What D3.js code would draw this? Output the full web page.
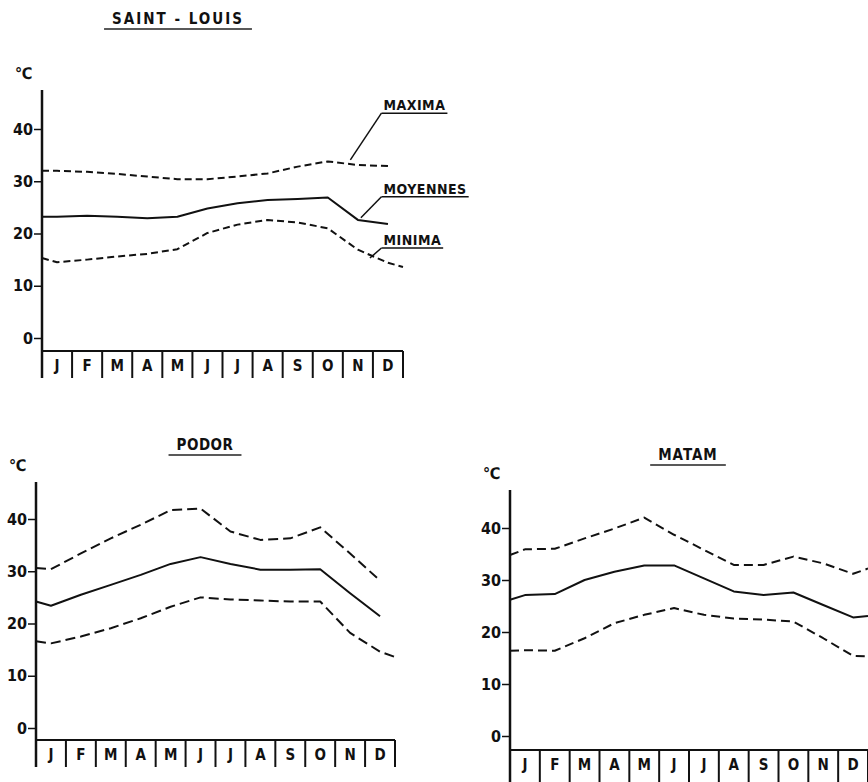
<!DOCTYPE html>
<html>
<head>
<meta charset="utf-8">
<script src="https://cdn.jsdelivr.net/npm/d3@7"></script>
<style>
  body { margin: 0; background: #fff; }
  svg { display: block; }
  text { font-family: "DejaVu Sans Condensed", "DejaVu Sans", sans-serif; font-stretch: condensed; font-weight: bold; fill: #111; }
</style>
</head>
<body>
<svg id="chart"></svg>
<script>
// Month initials shown in the boxes under each plot
const months = ['J', 'F', 'M', 'A', 'M', 'J', 'J', 'A', 'S', 'O', 'N', 'D'];
const yTicks = [0, 10, 20, 30, 40];
const seriesLabels = ['MAXIMA', 'MOYENNES', 'MINIMA'];

// first value sits on the axis, then one value per month centre, optional last at end of December
const stLouisMax  = [32.0, 32.0, 31.8, 31.4, 30.9, 30.4, 30.4, 30.9, 31.5, 32.8, 33.8, 33.1, 32.9];
const stLouisMean = [23.2, 23.2, 23.4, 23.2, 22.9, 23.2, 24.8, 25.8, 26.4, 26.6, 26.9, 22.6, 21.8];
const stLouisMin  = [15.3, 14.5, 15.0, 15.6, 16.1, 17.0, 20.1, 21.7, 22.6, 22.1, 21.0, 16.9, 14.4, 13.6];

const podorMax  = [30.6, 30.4, 33.4, 36.3, 38.9, 41.7, 42.0, 37.6, 36.0, 36.3, 38.4, 33.4, 28.2];
const podorMean = [24.2, 23.4, 25.5, 27.4, 29.3, 31.4, 32.7, 31.4, 30.3, 30.3, 30.4, 25.8, 21.4];
const podorMin  = [16.6, 16.2, 17.5, 19.1, 21.0, 23.2, 25.0, 24.6, 24.4, 24.2, 24.2, 18.2, 14.6, 13.6];

const matamMax  = [34.8, 35.9, 36.0, 38.0, 39.9, 42.0, 38.7, 35.8, 32.9, 32.9, 34.5, 33.2, 31.2, 32.2];
const matamMean = [26.2, 27.1, 27.3, 30.0, 31.6, 32.8, 32.8, 30.3, 27.8, 27.1, 27.6, 25.2, 22.8, 23.1];
const matamMin  = [16.4, 16.5, 16.4, 18.8, 21.7, 23.3, 24.6, 23.3, 22.6, 22.4, 22.0, 18.8, 15.4, 15.3];

// positions in month units: axis, month centres, end of December
function monthPos(n) {
  return d3.range(n).map(i => i === 0 ? 0 : (i <= 12 ? i - 0.5 : 12));
}

const svg = d3.select('#chart')
  .attr('width', 868)
  .attr('height', 782);

function drawPanel(cfg) {
  const g = svg.append('g');

  const x = d3.scaleLinear().domain([0, 12]).range([cfg.left, cfg.right]);
  const y = d3.scaleLinear().domain([0, 40]).range([cfg.zeroY, cfg.fortyY]);

  // title with underline
  const title = g.append('text')
    .attr('x', cfg.titleX)
    .attr('y', cfg.titleY)
    .attr('text-anchor', 'middle')
    .style('font-size', '15px')
    .style('letter-spacing', cfg.titleSpacing)
    .text(cfg.title);
  const tw = title.node().getComputedTextLength();
  g.append('line')
    .attr('x1', cfg.titleX - tw / 2 - 8).attr('x2', cfg.titleX + tw / 2 + 8)
    .attr('y1', cfg.titleY + 5).attr('y2', cfg.titleY + 5)
    .attr('stroke', '#222').attr('stroke-width', 1.5);

  // unit
  g.append('text')
    .attr('x', cfg.left - 27)
    .attr('y', cfg.axisTop - 11)
    .style('font-size', '16px')
    .text('℃');

  // y axis
  const yAxis = d3.axisLeft(y).tickValues(yTicks).tickSize(8).tickPadding(1).tickFormat(d3.format('d'));
  const ya = g.append('g')
    .attr('transform', `translate(${cfg.left},0)`)
    .call(yAxis);
  ya.select('.domain').remove();
  ya.selectAll('.tick line').attr('stroke', '#111').attr('stroke-width', 1.5);
  ya.selectAll('.tick text')
    .style('font-size', '16px')
    .style('font-family', '"DejaVu Sans Condensed", "DejaVu Sans", sans-serif')
    .style('font-stretch', 'condensed')
    .style('font-weight', 'bold')
    .attr('fill', '#111');

  g.append('line')
    .attr('x1', cfg.left).attr('x2', cfg.left)
    .attr('y1', cfg.axisTop).attr('y2', cfg.boxBottom)
    .attr('stroke', '#111').attr('stroke-width', 2.5);

  // month boxes
  g.append('line')
    .attr('x1', cfg.left).attr('x2', cfg.right)
    .attr('y1', cfg.boxTop).attr('y2', cfg.boxTop)
    .attr('stroke', '#111').attr('stroke-width', 2);
  g.selectAll('.divider')
    .data(d3.range(1, 13))
    .enter().append('line')
    .attr('class', 'divider')
    .attr('x1', d => x(d)).attr('x2', d => x(d))
    .attr('y1', cfg.boxTop).attr('y2', cfg.boxBottom)
    .attr('stroke', '#111').attr('stroke-width', 2);
  g.selectAll('.month')
    .data(months)
    .enter().append('text')
    .attr('class', 'month')
    .attr('x', (d, i) => x(i + 0.5))
    .attr('y', cfg.boxTop + 20)
    .attr('text-anchor', 'middle')
    .style('font-size', '15px')
    .text(d => d);

  // temperature curves
  const line = d3.line()
    .x(d => x(d.m))
    .y(d => y(d.v));

  cfg.series.forEach((vals, k) => {
    const pos = monthPos(vals.length);
    const pts = vals.map((v, i) => ({ m: pos[i], v: v }));
    g.append('path')
      .datum(pts)
      .attr('fill', 'none')
      .attr('stroke', '#111')
      .attr('stroke-width', 2)
      .attr('stroke-linejoin', 'round')
      .attr('stroke-dasharray', k === 1 ? null : cfg.dash)
      .attr('d', line);
  });

  return { g, x, y };
}

const stl = drawPanel({
  title: 'SAINT - LOUIS', titleX: 178, titleY: 24, titleSpacing: '2px',
  left: 42, right: 403, zeroY: 338, fortyY: 129, axisTop: 90, boxTop: 351, boxBottom: 378,
  dash: '7,4', series: [stLouisMax, stLouisMean, stLouisMin]
});

drawPanel({
  title: 'PODOR', titleX: 205, titleY: 450, titleSpacing: '0.5px',
  left: 36, right: 395, zeroY: 728, fortyY: 519, axisTop: 482, boxTop: 740, boxBottom: 767,
  dash: '10,5', series: [podorMax, podorMean, podorMin]
});

drawPanel({
  title: 'MATAM', titleX: 688, titleY: 460, titleSpacing: '1px',
  left: 510, right: 868, zeroY: 736, fortyY: 528, axisTop: 490, boxTop: 750, boxBottom: 790,
  dash: '9,5', series: [matamMax, matamMean, matamMin]
});

// annotations for Saint-Louis (label anchor and curve target in data units)
const notes = [
  { label: seriesLabels[0], at: [11.35, 43.6], to: [10.25, 34.1] },
  { label: seriesLabels[1], at: [11.35, 27.6], to: [10.6, 23.0] },
  { label: seriesLabels[2], at: [11.35, 17.8], to: [10.9, 15.3] }
];
notes.forEach(n => {
  const tx = stl.x(n.at[0]), ty = stl.y(n.at[1]);
  const t = stl.g.append('text')
    .attr('x', tx).attr('y', ty)
    .style('font-size', '14px')
    .style('letter-spacing', '0.5px')
    .text(n.label);
  const w = t.node().getComputedTextLength();
  stl.g.append('line')
    .attr('x1', tx - 2).attr('x2', tx + w + 2)
    .attr('y1', ty + 3).attr('y2', ty + 3)
    .attr('stroke', '#111').attr('stroke-width', 1.5);
  stl.g.append('line')
    .attr('x1', tx - 2).attr('y1', ty + 3)
    .attr('x2', stl.x(n.to[0])).attr('y2', stl.y(n.to[1]))
    .attr('stroke', '#111').attr('stroke-width', 1.5);
});
</script>
</body>
</html>
